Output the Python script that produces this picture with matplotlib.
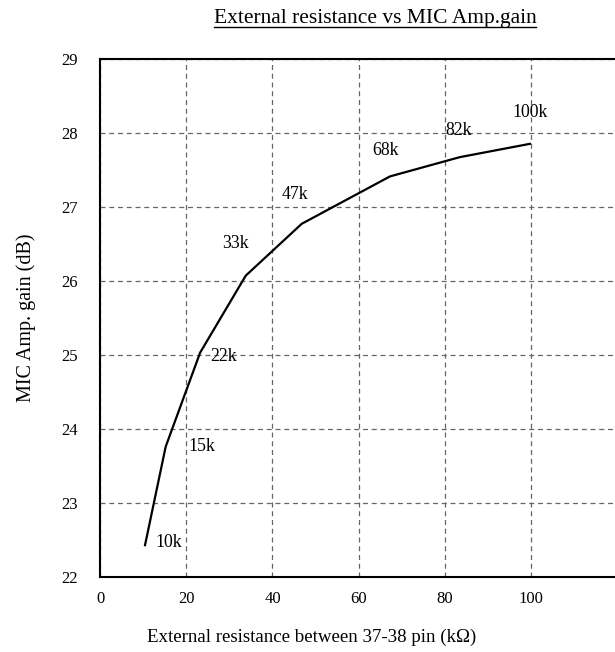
import matplotlib
matplotlib.use("Agg")
import matplotlib.pyplot as plt
from matplotlib.lines import Line2D

# data
res_x = [10.4, 15.2, 23.2, 33.8, 46.8, 67.3, 83.5, 99.8]
gain_db = [22.43, 23.76, 25.03, 26.07, 26.77, 27.41, 27.67, 27.85]
point_labels = ["10k", "15k", "22k", "33k", "47k", "68k", "82k", "100k"]
label_x = [12.7, 20.4, 25.6, 28.3, 42.1, 63.2, 80.1, 95.8]
label_y = [22.46, 23.76, 24.98, 26.51, 27.16, 27.76, 28.03, 28.27]
x_ticks = [0, 20, 40, 60, 80, 100]
y_ticks = [22, 23, 24, 25, 26, 27, 28, 29]

plt.rcParams['font.family'] = ['Liberation Serif', 'DejaVu Serif']

fig = plt.figure(figsize=(6.15, 6.52), dpi=100)
ax = fig.add_axes([0.163, 0.115, 0.84, 0.795])

ax.plot(res_x, gain_db, color='black', lw=1.6)
for lx, ly, t in zip(label_x, label_y, point_labels):
    ax.text(lx, ly, t, fontsize=12.8, ha='left', va='center')

ax.set_xlim(0, 120)
ax.set_ylim(22, 29)
ax.set_xticks(x_ticks)
ax.set_yticks(y_ticks)
ax.tick_params(length=0, labelsize=12)
ax.tick_params(axis='x', pad=10)
ax.tick_params(axis='y', pad=16)
ax.grid(True, color='#666666', linestyle=(0, (4, 3)), lw=0.9)
ax.set_axisbelow(True)
for s in ax.spines.values():
    s.set_linewidth(1.5)
    s.set_color('black')

fig.text(26 / 615, 1 - 318 / 652, "MIC Amp. gain (dB)", rotation=90,
         ha='center', va='center', fontsize=14.5)
fig.text(312 / 615, 1 - 637 / 652, "External resistance between 37-38 pin (k\u03a9)",
         ha='center', va='center', fontsize=13.6)
title = fig.text(375 / 615, 1 - 19 / 652, "External resistance vs MIC Amp.gain",
                 ha='center', va='center', fontsize=15.5)

fig.canvas.draw()
bb = title.get_window_extent().transformed(fig.transFigure.inverted())
uy = bb.y0 + 0.002
fig.add_artist(Line2D([bb.x0, bb.x1], [uy, uy], transform=fig.transFigure,
                      color='black', lw=1.0))

fig.savefig("out.png", dpi=100)
